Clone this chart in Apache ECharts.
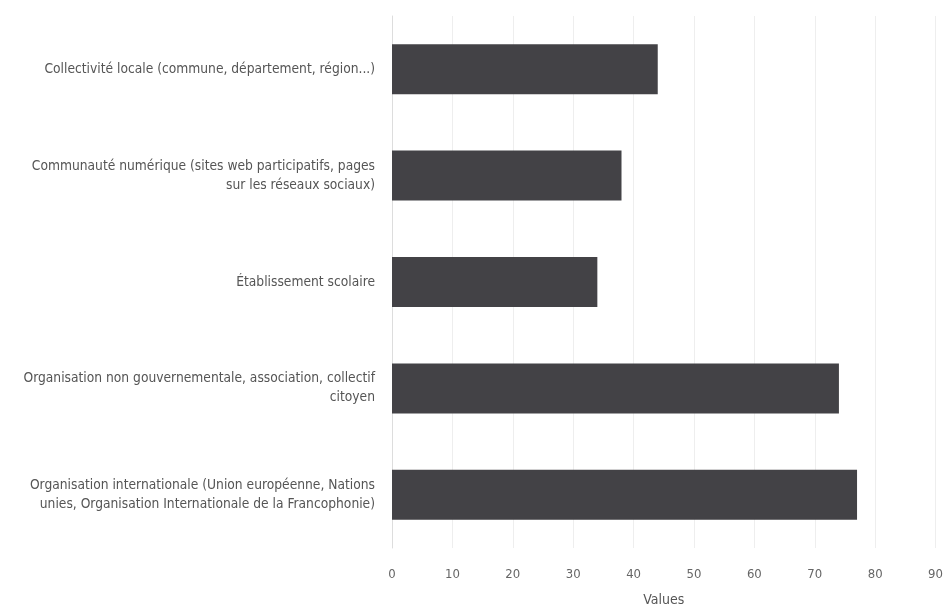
<!DOCTYPE html>
<html><head><meta charset="utf-8">
<script src="https://cdn.jsdelivr.net/npm/echarts@6/dist/echarts.min.js"></script>
<style>html,body{margin:0;padding:0;background:#fff}#c{width:946px;height:612px}</style>
</head><body><div id="c"></div>
<script>
const categories = [
  "Collectivité locale (commune, département, région...)",
  "Communauté numérique (sites web participatifs, pages\nsur les réseaux sociaux)",
  "Établissement scolaire",
  "Organisation non gouvernementale, association, collectif\ncitoyen",
  "Organisation internationale (Union européenne, Nations\nunies, Organisation Internationale de la Francophonie)"
];
const values = [44, 38, 34, 74, 77];
const xTicks = [0, 10, 20, 30, 40, 50, 60, 70, 80, 90];

const font = "'Liberation Sans Narrow', 'DejaVu Sans Condensed', sans-serif";
const chart = echarts.init(document.getElementById('c'));
chart.setOption({
  animation: false,
  grid: { left: 392, right: 8, top: 16, bottom: 61 },
  xAxis: {
    type: 'value', min: xTicks[0], max: xTicks[xTicks.length - 1], interval: 10,
    name: 'Values', nameLocation: 'middle', nameGap: 45,
    nameTextStyle: { color: '#555', fontSize: 14, fontFamily: font },
    axisLine: { show: false }, axisTick: { show: false },
    axisLabel: { color: '#666', fontSize: 13, fontFamily: font, margin: 20 },
    splitLine: { lineStyle: { color: '#eeeeee' } }
  },
  yAxis: {
    type: 'category', data: categories, inverse: true,
    axisLine: { lineStyle: { color: '#dddddd' } },
    axisTick: { length: 8, lineStyle: { color: '#dddddd' } },
    axisLabel: { color: '#555', fontSize: 13.7, fontFamily: font, margin: 17, lineHeight: 19, align: 'right' }
  },
  series: [{
    type: 'bar', data: values, barWidth: '47%',
    itemStyle: { color: '#434246' }
  }]
});
</script></body></html>
